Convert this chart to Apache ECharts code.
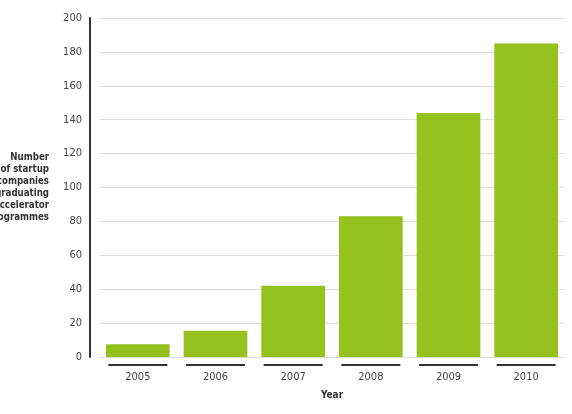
<!DOCTYPE html>
<html>
<head>
<meta charset="utf-8">
<script src="https://cdn.jsdelivr.net/npm/echarts@6/dist/echarts.min.js"></script>
<style>
  html, body { margin: 0; padding: 0; background: #fff; }
  #chart { width: 572px; height: 414px; }
</style>
</head>
<body>
<div id="chart"></div>
<script>
const years = ['2005', '2006', '2007', '2008', '2009', '2010']
const graduates = [7.5, 15.5, 42, 83, 144, 185]
const yTicks = { min: 0, max: 200, interval: 20 }

const chart = echarts.init(document.getElementById('chart'))
const font = '"Liberation Sans Narrow", "DejaVu Sans Condensed", sans-serif'

chart.setOption({
  animation: false,
  grid: { left: 99, right: 7, top: 18, bottom: 57, outerBoundsMode: 'none', containLabel: false },
  xAxis: {
    type: 'category',
    data: years,
    name: 'Year',
    nameLocation: 'middle',
    nameGap: 33,
    nameTextStyle: { fontFamily: font, fontSize: 10, fontWeight: 'bold', color: '#333' },
    axisLine: { show: false },
    axisTick: { show: false },
    axisLabel: { margin: 15, fontFamily: font, fontSize: 11, color: '#444' }
  },
  yAxis: {
    type: 'value',
    min: yTicks.min,
    max: yTicks.max,
    interval: yTicks.interval,
    offset: 9,
    name: 'Number\nof startup\ncompanies\ngraduating\naccelerator\nprogrammes',
    nameLocation: 'middle',
    nameRotate: 0,
    nameGap: 41,
    nameTextStyle: {
      fontFamily: font, fontSize: 9.6, fontWeight: 'bold', color: '#333',
      align: 'right', lineHeight: 12.1
    },
    axisLine: { show: true, lineStyle: { color: '#333', width: 2 } },
    axisTick: { show: false },
    axisLabel: { margin: 8, fontFamily: font, fontSize: 11, color: '#444' },
    splitLine: { lineStyle: { color: '#dddddd', width: 1 } }
  },
  series: [
    {
      type: 'bar',
      data: graduates,
      barCategoryGap: '18%',
      itemStyle: { color: '#95c11f' }
    },
    {
      // dark underline below each category
      type: 'custom',
      data: years.map((y, i) => [i, 0]),
      renderItem (params, api) {
        const pt = api.coord([api.value(0), 0])
        const w = api.size([1, 0])[0] * 0.76
        return {
          type: 'line',
          shape: { x1: pt[0] - w / 2, y1: pt[1] + 8, x2: pt[0] + w / 2, y2: pt[1] + 8 },
          style: { stroke: '#333', lineWidth: 2 }
        }
      }
    }
  ]
})
</script>
</body>
</html>
